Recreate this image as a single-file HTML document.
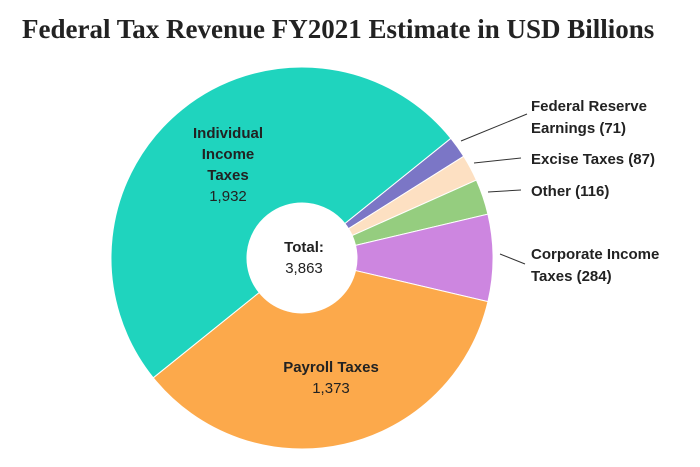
<!DOCTYPE html>
<html><head><style>
body{margin:0;background:#fff;width:700px;height:462px;overflow:hidden}
</style></head><body>
<svg width="700" height="462" xmlns="http://www.w3.org/2000/svg" font-family="Liberation Sans, sans-serif">
<text x="22" y="38" font-family="Liberation Serif, serif" font-weight="bold" font-size="27" fill="#222">Federal Tax Revenue FY2021 Estimate in USD Billions</text>
<g id="pie" stroke="#fff" stroke-width="1"></g>
<g stroke="#333" stroke-width="1" fill="none">
<line x1="461" y1="141" x2="527" y2="114"/>
<line x1="474" y1="163" x2="521" y2="158"/>
<line x1="488" y1="192" x2="521" y2="190"/>
<line x1="500" y1="254" x2="525" y2="264"/>
</g>
<g font-weight="bold" font-size="15" fill="#222">
<text x="531" y="111">Federal Reserve</text>
<text x="531" y="133">Earnings (71)</text>
<text x="531" y="164">Excise Taxes (87)</text>
<text x="531" y="196">Other (116)</text>
<text x="531" y="259">Corporate Income</text>
<text x="531" y="281">Taxes (284)</text>
</g>
<g font-size="15" fill="#222" text-anchor="middle">
<text x="228" y="138" font-weight="bold">Individual</text>
<text x="228" y="159" font-weight="bold">Income</text>
<text x="228" y="180" font-weight="bold">Taxes</text>
<text x="228" y="201">1,932</text>
<text x="304" y="252" font-weight="bold">Total:</text>
<text x="304" y="273">3,863</text>
<text x="331" y="372" font-weight="bold">Payroll Taxes</text>
<text x="331" y="393">1,373</text>
</g>
</svg>
<script>
var cx=302,cy=258,R=191,r=55;
var d=[[71,"#7b76c6"],[87,"#fde0c2"],[116,"#95cd7f"],[284,"#cd86e0"],[1373,"#fca94b"],[1932,"#1fd4be"]];
var a=51.2*Math.PI/180,tot=3863,g=document.getElementById("pie"),h="";
function p(rr,t){return [cx+rr*Math.sin(t),cy-rr*Math.cos(t)];}
d.forEach(function(s){var b=a+s[0]/tot*2*Math.PI,l=(b-a)>Math.PI?1:0;
var A=p(R,a),B=p(R,b),C=p(r,b),D=p(r,a);
h+='<path fill="'+s[1]+'" d="M'+A+' A'+R+' '+R+' 0 '+l+' 1 '+B+' L'+C+' A'+r+' '+r+' 0 '+l+' 0 '+D+'Z"/>';a=b;});
g.innerHTML=h;
</script>
</body></html>
